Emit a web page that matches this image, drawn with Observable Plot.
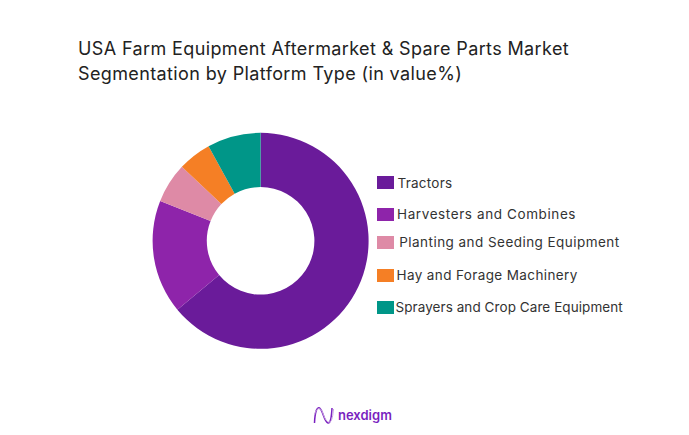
<!DOCTYPE html>
<html>
<head>
<meta charset="utf-8">
<script src="https://cdn.jsdelivr.net/npm/d3@7"></script>
<script src="https://cdn.jsdelivr.net/npm/@observablehq/plot@0.6"></script>
<style>
html,body{margin:0;padding:0;background:#fff;}
#page{position:relative;width:689px;height:435px;overflow:hidden;font-family:Inter,sans-serif;color:#222;}
#title{position:absolute;left:78px;top:36px;font-size:18px;line-height:25px;font-weight:400;white-space:nowrap;letter-spacing:.38px;}
#chart{position:absolute;left:0;top:0;}
#legend{position:absolute;left:0;top:0;}
.item{position:absolute;display:block;font-size:13.5px;line-height:16px;white-space:nowrap;color:#333;}
.sw{position:absolute;left:377px;width:17px;height:13px;}
#logo{position:absolute;left:313px;top:405px;width:90px;height:22px;}
#logo span{position:absolute;left:25px;top:1px;font-size:13px;line-height:18px;font-weight:600;color:#7a1fc0;}
</style>
</head>
<body>
<div id="page">
<div id="chart"></div>
<div id="title">USA Farm Equipment Aftermarket &amp; Spare Parts Market<br>Segmentation by Platform Type (in value%)</div>
<div id="legend"></div>
<div id="logo">
<svg width="22" height="22" viewBox="0 0 22 22" style="position:absolute;left:0;top:0" fill="none">
<path d="M1.5 18C2 6 4 2 6.5 3C10 5 11 17 15 18C17.5 18.500 18.500 12 19 3" stroke="#7a1fc0" stroke-width="1.500"/>
<path d="M1.500 10C3 3 7 2 9 6C11 11 13 18 17 17C19 16 20 10 20.500 4" stroke="#c9a6e0" stroke-width="1"/>
</svg>
<span>nexdigm</span>
</div>
</div>
<script>
const categories = ["Tractors","Harvesters and Combines","Planting and Seeding Equipment","Hay and Forage Machinery","Sprayers and Crop Care Equipment"];
const shares = [64,17,6,5,8];
const colors = ["#6A1B9A","#8E24AA","#DE8AA6","#F57F25","#009688"];
const labelLeft = [397.500,397,399.300,396.500,395.500];
const labelSpacing = [.25,.6,.45,.38,.07];
const rowCenter = [182.500,214.300,242.300,275,307];

const rows = categories.map((c,i)=>({category:c,share:shares[i]}));
const cx = 260.6, cy = 240.8, outer = 108, inner = 53.8;

const plot = Plot.plot({
  width: 689,
  height: 435,
  margin: 0,
  style: {background:"transparent"},
  x: {axis:null, domain:[0,100], range:[0,2*Math.PI]},
  color: {domain:categories, range:colors},
  marks: [
    Plot.barX(rows,{
      x:"share",
      fill:"category",
      render(index, scales, values, dimensions, context, next){
        const g = next(index, scales, values, dimensions, context);
        const arc = d3.arc();
        const rects = Array.from(g.querySelectorAll("rect"));
        rects.forEach((rect,k)=>{
          const i = index[k];
          const path = document.createElementNS("http://www.w3.org/2000/svg","path");
          path.setAttribute("d",arc({innerRadius:inner,outerRadius:outer,startAngle:values.x1[i],endAngle:values.x2[i]}));
          path.setAttribute("transform",`translate(${cx},${cy})`);
          path.setAttribute("fill",rect.getAttribute("fill"));
          rect.replaceWith(path);
        });
        return g;
      }
    })
  ]
});
document.getElementById("chart").appendChild(plot);

const legend = document.getElementById("legend");
categories.forEach((c,i)=>{
  const sw = document.createElement("div");
  sw.className="sw";
  sw.style.top=(rowCenter[i]-6.5)+"px";
  sw.style.background=colors[i];
  legend.appendChild(sw);
  const t = document.createElement("div");
  t.className="item";
  t.textContent=c;
  t.style.left=labelLeft[i]+"px";
  t.style.top=(rowCenter[i]-8)+"px";
  t.style.letterSpacing=labelSpacing[i]+"px";
  legend.appendChild(t);
});
</script>
</body>
</html>
